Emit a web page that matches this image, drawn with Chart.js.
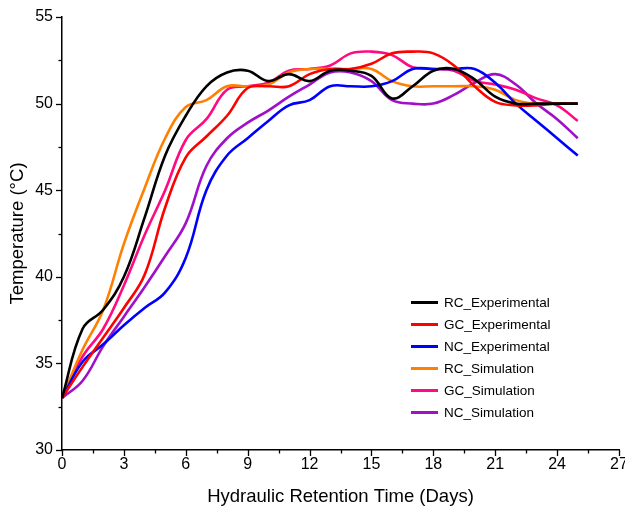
<!DOCTYPE html>
<html>
<head>
<meta charset="utf-8">
<script src="https://cdn.jsdelivr.net/npm/chart.js@4.4.1/dist/chart.umd.min.js"></script>
<style>
  html, body { margin: 0; padding: 0; background: #fff; }
  #wrap { position: relative; width: 625px; height: 510px; }
  #legend {
    position: absolute; left: 411px; top: 291px;
    font-family: Arial, "Liberation Sans", sans-serif; font-size: 13.5px; color: #000;
  }
  .row { height: 22.1px; display: flex; align-items: center; }
  .swatch { width: 27px; height: 3px; margin-right: 6px; }
</style>
</head>
<body>
<div id="wrap">
  <canvas id="chart" width="625" height="510"></canvas>
  <div id="legend"></div>
</div>
<script>
// Datos (días 0..25)
const days = [0,1,2,3,4,5,6,7,8,9,10,11,12,13,14,15,16,17,18,19,20,21,22,23,24,25];

const rcExperimental = [33,37,38.1,40,43.4,47,49.3,51,51.8,51.9,51.3,51.7,51.3,51.9,51.9,51.6,50.3,51,51.9,52,51.4,50.4,50,50,50,50];
const gcExperimental = [33,34.8,36.5,38.2,40.1,44,46.9,48.1,49.3,50.9,51,51,51.7,52,52,52.3,52.9,53,52.9,52.2,51,50.1,49.9,49.9,50,50];
const ncExperimental = [33,35.1,36.1,37.2,38.2,39.1,41.1,45,47,48,49,49.9,50.2,51,51,51,51.3,52,52,52,52,51.2,50,49,48,47];
const rcSimulation   = [33,35.8,38.1,41.9,45.1,48,49.8,50.2,51,51,51.1,51.8,52,52,52,52,51.3,51,51,51,51,50.8,50.2,50,50,50];
const gcSimulation   = [33,35.4,37,39.5,42.4,45,47.9,49.1,50.8,51,51.2,51.9,52,52.2,52.9,53,52.8,52.1,52,51.9,51.3,51.1,50.8,50.3,49.9,49];
const ncSimulation   = [33,34,36,37.7,39.4,41.2,43.1,46.4,48,48.9,49.6,50.4,51.1,51.8,51.8,51.3,50.2,50,50,50.5,51.2,51.7,51.1,50,49.1,48];

const seriesNames = ["RC_Experimental","GC_Experimental","NC_Experimental","RC_Simulation","GC_Simulation","NC_Simulation"];
const seriesColors = ["#000000","#ff0000","#0000ff","#ff8000","#ff0a80","#a010c8"];
const seriesValues = [rcExperimental, gcExperimental, ncExperimental, rcSimulation, gcSimulation, ncSimulation];

const xMajorTicks = [0,3,6,9,12,15,18,21,24,27];
const xMinorTicks = [1.5,4.5,7.5,10.5,13.5,16.5,19.5,22.5,25.5];
const yMajorTicks = [30,35,40,45,50,55];
const yMinorTicks = [32.5,37.5,42.5,47.5,52.5];

const FONT = "Arial, 'Liberation Sans', sans-serif";

// Marcas de los ejes (mayores y menores)
const tickMarks = {
  id: "tickMarks",
  afterDraw(chart) {
    const { ctx, scales: { x, y } } = chart;
    ctx.save();
    ctx.strokeStyle = "#000";
    ctx.lineWidth = 1.3;
    const xTick = (v, len) => {
      const px = Math.round(x.getPixelForValue(v)) + 0.5;
      ctx.beginPath(); ctx.moveTo(px, y.bottom); ctx.lineTo(px, y.bottom + len); ctx.stroke();
    };
    const yTick = (v, len) => {
      const py = Math.round(y.getPixelForValue(v)) + 0.5;
      ctx.beginPath(); ctx.moveTo(x.left, py); ctx.lineTo(x.left - len, py); ctx.stroke();
    };
    xMajorTicks.forEach(v => xTick(v, 6));
    xMinorTicks.forEach(v => xTick(v, 3.5));
    yMajorTicks.forEach(v => yTick(v, 6));
    yMinorTicks.forEach(v => yTick(v, 3.5));
    ctx.restore();
  }
};

const datasets = seriesNames.map((name, i) => ({
  label: name,
  data: days.map((d, j) => ({ x: d, y: seriesValues[i][j] })),
  borderColor: seriesColors[i],
  backgroundColor: seriesColors[i],
  borderWidth: 2.6,
  pointRadius: 0,
  tension: 0.4,
  fill: false
}));

new Chart(document.getElementById("chart"), {
  type: "line",
  data: { datasets },
  options: {
    responsive: false,
    animation: false,
    devicePixelRatio: 1,
    layout: { padding: { top: 17, right: 6, left: 0, bottom: 0 } },
    plugins: { legend: { display: false }, tooltip: { enabled: false } },
    scales: {
      x: {
        type: "linear",
        min: 0, max: 27,
        afterBuildTicks: s => { s.ticks = xMajorTicks.map(v => ({ value: v })); },
        afterFit: s => { s.height = 60; s.paddingLeft = 0; s.paddingRight = 0; },
        grid: { display: true, drawOnChartArea: false, drawTicks: false },
        border: { display: true, color: "#000", width: 1.5 },
        ticks: { color: "#000", font: { family: FONT, size: 16 }, padding: 5, maxRotation: 0, autoSkip: false },
        title: { display: true, text: "Hydraulic Retention Time (Days)", color: "#000",
                 font: { family: FONT, size: 18.5 }, padding: { top: 0, bottom: 2 } }
      },
      y: {
        min: 30, max: 55,
        afterBuildTicks: s => { s.ticks = yMajorTicks.map(v => ({ value: v })); },
        afterFit: s => { s.width = 62; s.paddingTop = 0; s.paddingBottom = 0; },
        grid: { display: true, drawOnChartArea: false, drawTicks: false },
        border: { display: true, color: "#000", width: 1.5 },
        ticks: { color: "#000", font: { family: FONT, size: 16 }, padding: 9 },
        title: { display: true, text: "Temperature (°C)", color: "#000",
                 font: { family: FONT, size: 18.5 }, padding: { top: 7, bottom: 0 } }
      }
    }
  },
  plugins: [tickMarks]
});

// Leyenda dentro del área del gráfico
document.getElementById("legend").innerHTML = seriesNames.map((name, i) =>
  `<div class="row"><span class="swatch" style="background:${seriesColors[i]}"></span>${name}</div>`
).join("");
</script>
</body>
</html>
